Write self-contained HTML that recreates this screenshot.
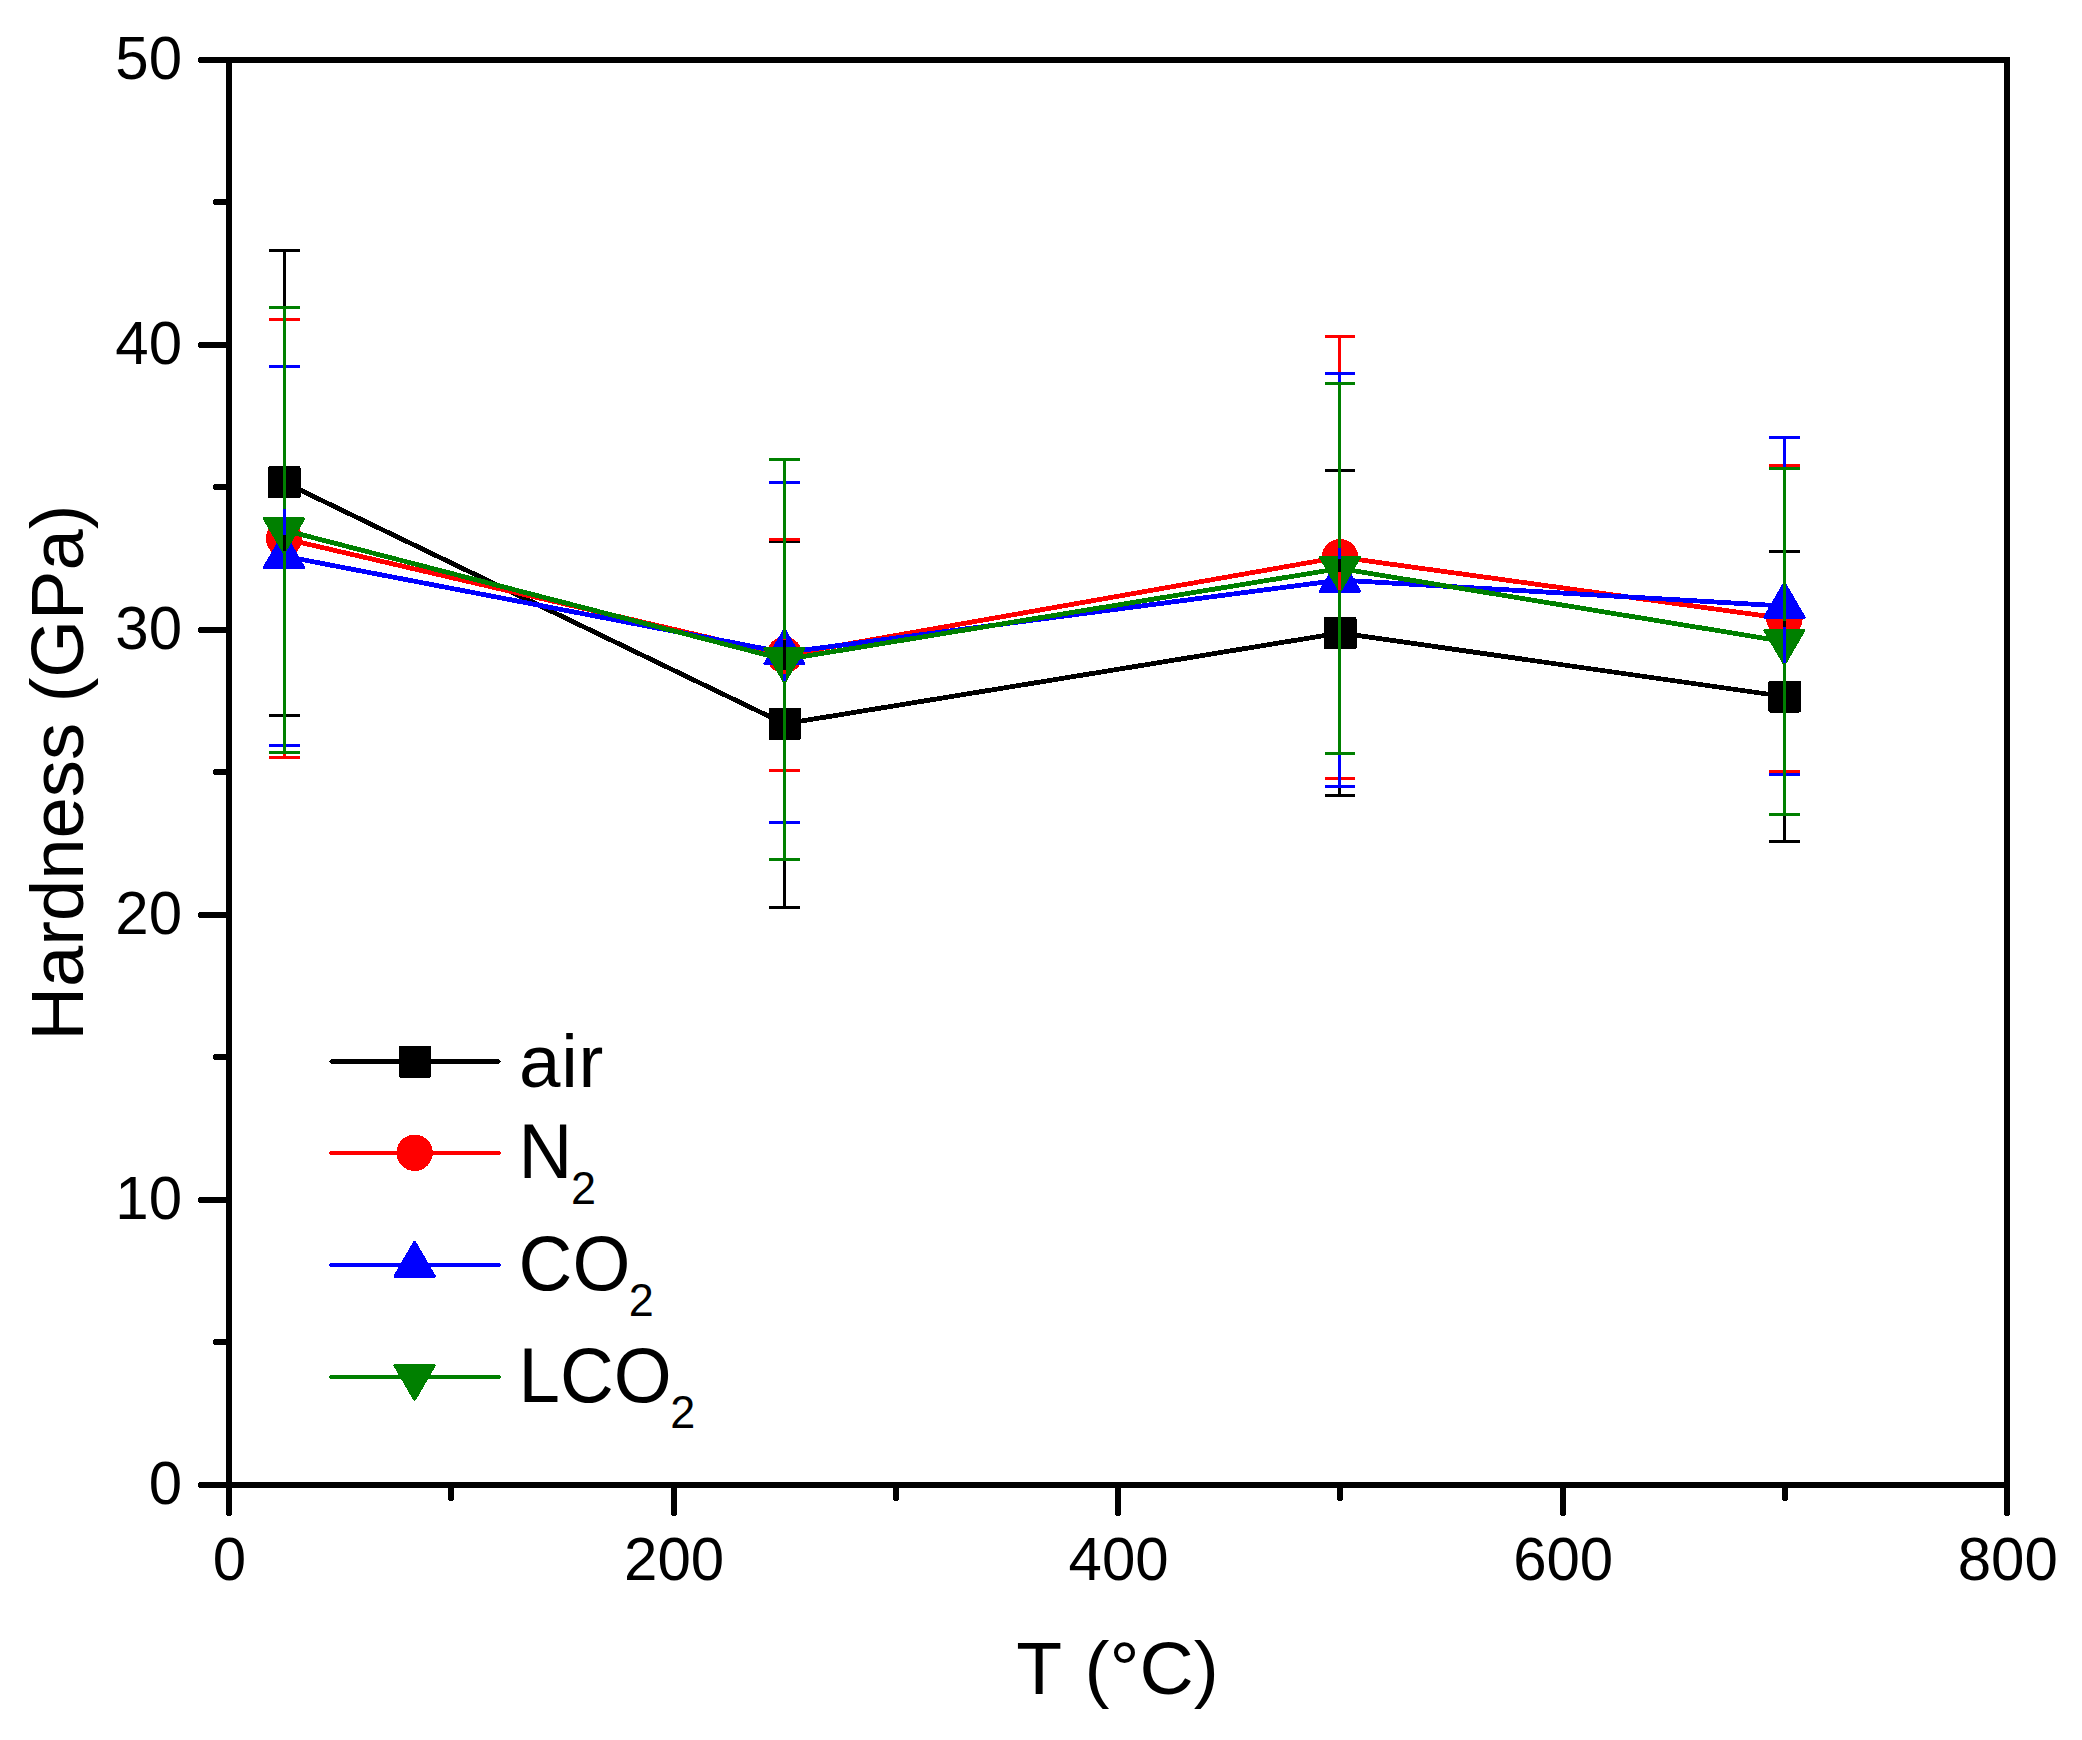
<!DOCTYPE html>
<html lang="en"><head><meta charset="utf-8"><title>Hardness vs T</title>
<style>html,body{margin:0;padding:0;background:#fff}body{width:2082px;height:1740px;overflow:hidden}svg{display:block}text{font-family:"Liberation Sans",Arial,Helvetica,sans-serif;fill:#000}</style></head><body>
<svg width="2082" height="1740" viewBox="0 0 2082 1740">
<rect width="2082" height="1740" fill="#fff"/>
<g id="plots" shape-rendering="crispEdges">
<polyline points="284,482.2 784.5,723.8 1340,633 1784.4,696.5" fill="none" stroke="#000000" stroke-width="4.8" stroke-linejoin="round"/>
<rect x="268" y="466.2" width="32.5" height="32" rx="1.5" fill="#000000"/>
<rect x="768.5" y="707.8" width="32.5" height="32" rx="1.5" fill="#000000"/>
<rect x="1324" y="617" width="32.5" height="32" rx="1.5" fill="#000000"/>
<rect x="1768.4" y="680.5" width="32.5" height="32" rx="1.5" fill="#000000"/>
<polyline points="284,538.6 784.5,655.1 1340,557.1 1784.4,618.6" fill="none" stroke="#ff0000" stroke-width="4.8" stroke-linejoin="round"/>
<circle cx="284" cy="538.6" r="18.2" fill="#ff0000"/>
<circle cx="784.5" cy="655.1" r="18.2" fill="#ff0000"/>
<circle cx="1340" cy="557.1" r="18.2" fill="#ff0000"/>
<circle cx="1784.4" cy="618.6" r="18.2" fill="#ff0000"/>
<polyline points="284,556.1 784.5,652.55 1340,580.05 1784.4,606.05" fill="none" stroke="#0000ff" stroke-width="4.8" stroke-linejoin="round"/>
<polygon points="284,533.5 303.6,567.4 264.4,567.4" fill="#0000ff" stroke="#0000ff" stroke-width="3" stroke-linejoin="round"/>
<polygon points="784.5,629.95 804.1,663.85 764.9,663.85" fill="#0000ff" stroke="#0000ff" stroke-width="3" stroke-linejoin="round"/>
<polygon points="1340,557.45 1359.6,591.35 1320.4,591.35" fill="#0000ff" stroke="#0000ff" stroke-width="3" stroke-linejoin="round"/>
<polygon points="1784.4,583.45 1804,617.35 1764.8,617.35" fill="#0000ff" stroke="#0000ff" stroke-width="3" stroke-linejoin="round"/>
<polyline points="284,530.1 784.5,659.6 1340,568.5 1784.4,641.55" fill="none" stroke="#008000" stroke-width="4.8" stroke-linejoin="round"/>
<polygon points="284,552.5 303.6,518.7 264.4,518.7" fill="#008000" stroke="#008000" stroke-width="3" stroke-linejoin="round"/>
<polygon points="784.5,682 804.1,648.2 764.9,648.2" fill="#008000" stroke="#008000" stroke-width="3" stroke-linejoin="round"/>
<polygon points="1340,590.9 1359.6,557.1 1320.4,557.1" fill="#008000" stroke="#008000" stroke-width="3" stroke-linejoin="round"/>
<polygon points="1784.4,663.95 1804,630.15 1764.8,630.15" fill="#008000" stroke="#008000" stroke-width="3" stroke-linejoin="round"/>
</g>
<g id="errorbars" shape-rendering="crispEdges" stroke-width="3" fill="none">
<path stroke="#000000" d="M269,250.5H300M269,715.5H300M284.5,250.5V465.2M284.5,499.2V715.5"/>
<path stroke="#000000" d="M769,541H800M769,907.75H800M784.5,541V706.8M784.5,740.8V907.75"/>
<path stroke="#000000" d="M1325,470.6H1355M1325,795.6H1355M1339.5,470.6V616M1339.5,650V795.6"/>
<path stroke="#000000" d="M1769,551.6H1800M1769,841.6H1800M1784.5,551.6V679.5M1784.5,713.5V841.6"/>
<path stroke="#ff0000" d="M269,319.6H300M269,757.6H300M284.5,319.6V523.6M284.5,553.6V757.6"/>
<path stroke="#ff0000" d="M769,539.6H800M769,770.6H800M784.5,539.6V640.1M784.5,670.1V770.6"/>
<path stroke="#ff0000" d="M1325,336.5H1355M1325,778.5H1355M1339.5,336.5V542.1M1339.5,572.1V778.5"/>
<path stroke="#ff0000" d="M1769,465.6H1800M1769,771.6H1800M1784.5,465.6V603.6M1784.5,633.6V771.6"/>
<path stroke="#0000ff" d="M269,366.6H300M269,745.6H300M284.5,366.6V535.1M284.5,577.1V745.6"/>
<path stroke="#0000ff" d="M769,482.5H800M769,822.6H800M784.5,482.5V631.55M784.5,673.55V822.6"/>
<path stroke="#0000ff" d="M1325,373.6H1355M1325,786.5H1355M1339.5,373.6V559.05M1339.5,601.05V786.5"/>
<path stroke="#0000ff" d="M1769,437.5H1800M1769,774.6H1800M1784.5,437.5V585.05M1784.5,627.05V774.6"/>
<path stroke="#008000" d="M269,307.6H300M269,752.6H300M284.5,307.6V509.1M284.5,551.1V752.6"/>
<path stroke="#008000" d="M769,459.5H800M769,859.75H800M784.5,459.5V638.6M784.5,680.6V859.75"/>
<path stroke="#008000" d="M1325,383.5H1355M1325,753.5H1355M1339.5,383.5V547.5M1339.5,589.5V753.5"/>
<path stroke="#008000" d="M1769,468.5H1800M1769,814.6H1800M1784.5,468.5V620.55M1784.5,662.55V814.6"/>
</g>
<g id="axes" stroke="#000" stroke-width="6" stroke-linecap="round" fill="none" shape-rendering="crispEdges">
<rect x="229" y="60" width="1778" height="1425" stroke-linecap="butt"/>
<path d="M229,1485h-28M229,1342h-13.5M229,1200h-28M229,1057h-13.5M229,915h-28M229,772h-13.5M229,630h-28M229,487h-13.5M229,345h-28M229,202h-13.5M229,60h-28M229,1485v28M451,1485v13.5M674,1485v28M896,1485v13.5M1118,1485v28M1340,1485v13.5M1563,1485v28M1785,1485v13.5M2007,1485v28"/>
</g>
<g id="ylabels" font-size="60" text-anchor="end">
<text transform="translate(182.0 1503.7) scale(1 1.02)">0</text>
<text transform="translate(182.0 1218.7) scale(1 1.02)">10</text>
<text transform="translate(182.0 933.7) scale(1 1.02)">20</text>
<text transform="translate(182.0 648.7) scale(1 1.02)">30</text>
<text transform="translate(182.0 363.7) scale(1 1.02)">40</text>
<text transform="translate(182.0 78.7) scale(1 1.02)">50</text>
</g>
<g id="xlabels" font-size="60" text-anchor="middle">
<text transform="translate(229.5 1580.3) scale(1 1.02)">0</text>
<text transform="translate(674.06 1580.3) scale(1 1.02)">200</text>
<text transform="translate(1118.62 1580.3) scale(1 1.02)">400</text>
<text transform="translate(1563.19 1580.3) scale(1 1.02)">600</text>
<text transform="translate(2007.75 1580.3) scale(1 1.02)">800</text>
</g>
<text id="xtitle" font-size="75" text-anchor="middle" x="1117.5" y="1694.2" word-spacing="3">T (°C)</text>
<text id="ytitle" font-size="74.2" text-anchor="middle" transform="translate(82.7 772.5) rotate(-90)">Hardness (GPa)</text>
<g id="legend">
<g shape-rendering="crispEdges"><line x1="331.5" x2="498.5" y1="1061.5" y2="1061.5" stroke="#000000" stroke-width="4.6" stroke-linecap="round"/>
<rect x="398.6" y="1045.5" width="32.5" height="32" rx="1.5" fill="#000000"/></g>
<text font-size="74.5" x="519" y="1087" letter-spacing="0.8">air</text>
<g shape-rendering="crispEdges"><line x1="331.5" x2="498.5" y1="1152.8" y2="1152.8" stroke="#ff0000" stroke-width="4.6" stroke-linecap="round"/>
<circle cx="414.6" cy="1152.8" r="18.2" fill="#ff0000"/></g>
<text font-size="74.5" transform="translate(518.6 1178) scale(1 1.035)">N<tspan font-size="45" dx="-1.5" dy="25">2</tspan></text>
<g shape-rendering="crispEdges"><line x1="331.5" x2="498.5" y1="1264.9" y2="1264.9" stroke="#0000ff" stroke-width="4.6" stroke-linecap="round"/>
<polygon points="414.6,1242.3 434.2,1276.2 395,1276.2" fill="#0000ff" stroke="#0000ff" stroke-width="3" stroke-linejoin="round"/></g>
<text font-size="74.5" transform="translate(518.6 1290.4) scale(1 1.035)">CO<tspan font-size="45" dx="-1.5" dy="25">2</tspan></text>
<g shape-rendering="crispEdges"><line x1="331.5" x2="498.5" y1="1376.9" y2="1376.9" stroke="#008000" stroke-width="4.6" stroke-linecap="round"/>
<polygon points="414.6,1399.3 434.2,1365.5 395,1365.5" fill="#008000" stroke="#008000" stroke-width="3" stroke-linejoin="round"/></g>
<text font-size="74.5" transform="translate(518.6 1401.8) scale(1 1.035)">LCO<tspan font-size="45" dx="-1.5" dy="25">2</tspan></text>
</g>
</svg></body></html>
